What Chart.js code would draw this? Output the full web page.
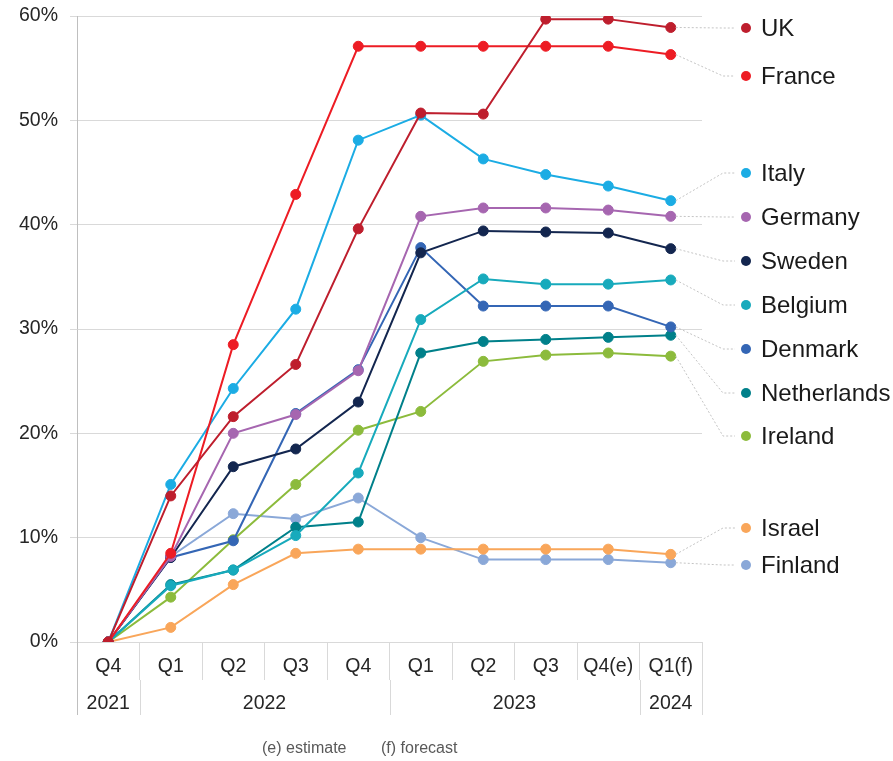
<!DOCTYPE html>
<html><head><meta charset="utf-8">
<script src="https://cdn.jsdelivr.net/npm/chart.js@4.4.1/dist/chart.umd.min.js"></script>
<style>html,body{margin:0;padding:0;background:#fff;}#wrap{width:893px;height:761px;position:relative}</style>
</head><body><div id="wrap"><canvas id="c" width="893" height="761"></canvas></div>
<script>
// ---- data ----
const quarters = ['Q4','Q1','Q2','Q3','Q4','Q1','Q2','Q3','Q4(e)','Q1(f)'];
const yearGroups = ['2021','2022','2023','2024'];
const yearSpans = [1,4,4,1];
const countries = ['UK','France','Italy','Germany','Sweden','Belgium','Denmark','Netherlands','Ireland','Israel','Finland'];
const uk          = [0,14.0,21.6,26.6,39.6,50.7,50.6,59.7,59.7,58.9];
const france      = [0, 8.5,28.5,42.9,57.1,57.1,57.1,57.1,57.1,56.3];
const italy       = [0,15.1,24.3,31.9,48.1,50.5,46.3,44.8,43.7,42.3];
const germany     = [0, 8.2,20.0,21.8,26.0,40.8,41.6,41.6,41.4,40.8];
const sweden      = [0, 8.1,16.8,18.5,23.0,37.3,39.4,39.3,39.2,37.7];
const belgium     = [0, 5.4, 6.9,10.2,16.2,30.9,34.8,34.3,34.3,34.7];
const denmark     = [0, 8.1, 9.7,21.9,26.1,37.8,32.2,32.2,32.2,30.2];
const netherlands = [0, 5.5, 6.9,11.0,11.5,27.7,28.8,29.0,29.2,29.4];
const ireland     = [0, 4.3, 9.8,15.1,20.3,22.1,26.9,27.5,27.7,27.4];
const israel      = [0, 1.4, 5.5, 8.5, 8.9, 8.9, 8.9, 8.9, 8.9, 8.4];
const finland     = [0, 8.2,12.3,11.8,13.8,10.0, 7.9, 7.9, 7.9, 7.6];
const seriesValues = [uk,france,italy,germany,sweden,belgium,denmark,netherlands,ireland,israel,finland];
const yMin = 0, yMax = 60, yStep = 10;
const footnotes = ['(e) estimate','(f) forecast'];

// ---- styles ----
const colors = ['#BE1E2D','#ED1C24','#1BACE4','#A666B0','#13264F','#17AABC','#3466B5','#00808A','#8CBB3C','#F9A65A','#8AA8D8'];
const labelPixelY = [28,76,173,217,261,305,349,393,436,528,565];
const FONT = "'Liberation Sans', Arial, Helvetica, sans-serif";

const datasets = countries.map((name,i)=>({
  label: name,
  data: seriesValues[i],
  borderColor: colors[i],
  backgroundColor: colors[i],
  pointBackgroundColor: colors[i],
  pointBorderColor: colors[i],
  pointRadius: 5,
  pointBorderWidth: 1,
  borderWidth: 2,
  tension: 0,
  fill: false
}));

const decorPlugin = {
  id: 'decor',
  afterDatasetsDraw(chart) {
    const ctx = chart.ctx;
    const xs = chart.scales.x, ys = chart.scales.y;
    const ca = chart.chartArea;
    ctx.save();
    // leader lines and labels
    const elbowX = 723, endX = 735, dotX = 746, textX = 761;
    countries.forEach((name,i)=>{
      const vals = seriesValues[i];
      const last = vals.length-1;
      const px = xs.getPixelForValue(last);
      const py = ys.getPixelForValue(vals[last]);
      const ly = labelPixelY[i];
      ctx.beginPath();
      ctx.setLineDash([2,2]);
      ctx.strokeStyle = '#c4c4c4';
      ctx.lineWidth = 1;
      ctx.moveTo(px+5, py);
      ctx.lineTo(elbowX, ly);
      ctx.lineTo(endX, ly);
      ctx.stroke();
      ctx.setLineDash([]);
      ctx.beginPath();
      ctx.fillStyle = colors[i];
      ctx.arc(dotX, ly, 5, 0, Math.PI*2);
      ctx.fill();
      ctx.fillStyle = '#1a1a1a';
      ctx.font = '24px ' + FONT;
      ctx.textBaseline = 'middle';
      ctx.textAlign = 'left';
      ctx.fillText(name, textX, ly+1);
    });
    // year row separators + labels
    const bottomY = 715;
    const midTop = ca.bottom + 38;
    ctx.strokeStyle = '#d9d9d9';
    ctx.lineWidth = 1;
    const bound = k => k===0 ? ca.left : (k>=quarters.length ? ca.right : (xs.getPixelForValue(k-1)+xs.getPixelForValue(k))/2);
    let idx = 0;
    const bounds = [0];
    yearSpans.forEach(s=>{ idx += s; bounds.push(idx); });
    bounds.forEach(k=>{
      const x = Math.round(bound(k)) + 0.5;
      ctx.beginPath();
      ctx.moveTo(x, midTop);
      ctx.lineTo(x, bottomY);
      ctx.stroke();
    });
    // left axis extension
    ctx.strokeStyle = '#bfbfbf';
    ctx.beginPath();
    ctx.moveTo(Math.round(ca.left)+0.5, ca.bottom);
    ctx.lineTo(Math.round(ca.left)+0.5, bottomY);
    ctx.stroke();
    ctx.fillStyle = '#262626';
    ctx.font = '19.5px ' + FONT;
    ctx.textAlign = 'center';
    ctx.textBaseline = 'middle';
    yearGroups.forEach((g,j)=>{
      const a = bound(bounds[j]), b = bound(bounds[j+1]);
      ctx.fillText(g, (a+b)/2, 704);
    });
    // footnotes
    ctx.fillStyle = '#595959';
    ctx.font = '16px ' + FONT;
    ctx.textAlign = 'left';
    ctx.fillText(footnotes[0], 262, 749);
    ctx.fillText(footnotes[1], 381, 749);
    ctx.restore();
  }
};

new Chart(document.getElementById('c'), {
  type: 'line',
  data: { labels: quarters, datasets },
  options: {
    responsive: false,
    animation: false,
    devicePixelRatio: 1,
    layout: { padding: { top: 16, right: 191, bottom: 0, left: 0 } },
    plugins: { legend: { display: false }, tooltip: { enabled: false }, title: { display: false } },
    scales: {
      x: {
        type: 'category',
        offset: true,
        grid: { display: true, drawOnChartArea: false, drawTicks: true, tickLength: 38, offset: true, color: '#d9d9d9', lineWidth: 1 },
        border: { display: true, color: '#d9d9d9' },
        ticks: { color: '#262626', font: { family: FONT, size: 19.5 }, padding: -25, maxRotation: 0, autoSkip: false },
        afterFit: s => { s.height = 119; s.paddingLeft = 0; s.paddingRight = 0; }
      },
      y: {
        min: yMin, max: yMax,
        grid: { color: '#d9d9d9', lineWidth: 1, tickLength: 7 },
        border: { display: true, color: '#bfbfbf' },
        ticks: { stepSize: yStep, color: '#262626', font: { family: FONT, size: 19.5 }, padding: 12, callback: v => v + '%' },
        afterFit: s => { s.width = 77; s.paddingTop = 0; s.paddingBottom = 0; }
      }
    }
  },
  plugins: [decorPlugin]
});
</script></body></html>
